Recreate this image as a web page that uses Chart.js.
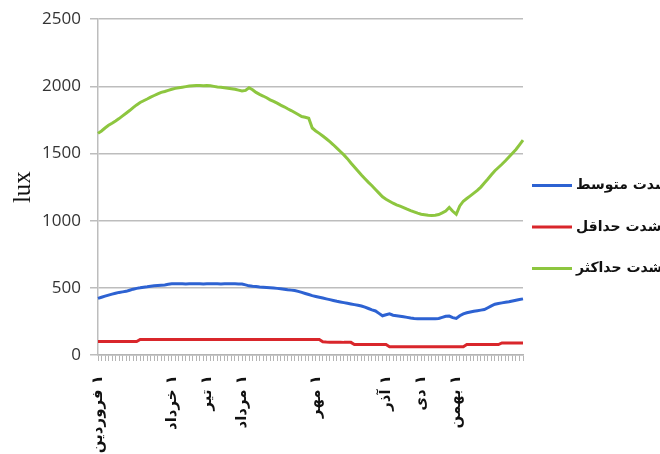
<!DOCTYPE html>
<html>
<head>
<meta charset="utf-8">
<script src="https://cdn.jsdelivr.net/npm/chart.js@4"></script>
<style>
  html, body { margin: 0; padding: 0; background: #fff; overflow: hidden; }
  #wrap { width: 660px; height: 454px; }
</style>
</head>
<body>
<div id="wrap"><canvas id="luxChart" width="660" height="454"></canvas></div>
<script>
// روزهای سال (هر ۳ روز یک نقطه)
const days = [];
for (let d = 0; d <= 363; d += 3) days.push(d);

const monthDays = [0, 63, 93, 123, 186, 246, 276, 306];
const monthLabels = ['۱ فروردین', '۱ خرداد', '۱ تیر', '۱ مرداد', '۱ مهر', '۱ آذر', '۱ دی', '۱ بهمن'];

const seriesNames = ['شدت متوسط', 'شدت حداقل', 'شدت حداکثر'];
const seriesColors = ['#2d62d2', '#d9262b', '#8dc63f'];

const avgLux = [
  422, 430, 438, 446, 453, 460, 466, 470, 474, 482, 490, 496, 500, 505, 508, 512,
  515, 518, 520, 522, 526, 530, 530, 531, 530, 529, 530, 531, 530, 530, 529, 530,
  531, 530, 530, 529, 530, 530, 531, 530, 529, 528, 522, 515, 512, 510, 506, 504,
  502, 500, 498, 496, 494, 490, 486, 483, 480, 474, 466, 458, 450, 442, 436, 430,
  424, 418, 412, 406, 400, 395, 390, 385, 380, 375, 370, 365, 356, 346, 336, 328,
  310, 292, 300, 306, 296, 292, 288, 284, 280, 275, 272, 270, 270, 270, 270, 270,
  270, 272, 280, 288, 290, 278, 272, 292, 306, 314, 320, 326, 330, 334, 338, 352,
  366, 378, 384, 388, 392, 396, 402, 408, 413, 418
];

const minLux = [
  100, 100, 100, 100, 100, 100, 100, 100, 100, 100, 100, 100, 115, 115, 115, 115,
  115, 115, 115, 115, 115, 115, 115, 115, 115, 115, 115, 115, 115, 115, 115, 115,
  115, 115, 115, 115, 115, 115, 115, 115, 115, 115, 115, 115, 115, 115, 115, 115,
  115, 115, 115, 115, 115, 115, 115, 115, 115, 115, 115, 115, 115, 115, 115, 115,
  98, 96, 95, 95, 95, 95, 94, 94, 94, 78, 78, 78, 78, 78, 78, 78,
  78, 78, 78, 62, 62, 62, 62, 62, 62, 62, 62, 62, 62, 62, 62, 62,
  62, 62, 62, 62, 62, 62, 62, 62, 62, 78, 78, 78, 78, 78, 78, 78,
  78, 78, 78, 90, 90, 90, 90, 90, 90, 90
];

const maxLux = [
  1650, 1668, 1690, 1710, 1725, 1742, 1760, 1780, 1800, 1820, 1842, 1862, 1880, 1893, 1906, 1920,
  1932, 1944, 1955, 1962, 1970, 1978, 1985, 1990, 1994, 1998, 2002, 2005, 2006, 2006, 2005, 2006,
  2004, 2000, 1996, 1994, 1990, 1986, 1982, 1978, 1972, 1965, 1970, 1990, 1975, 1955, 1940, 1928,
  1915, 1900, 1888, 1875, 1860, 1848, 1833, 1820, 1805, 1790, 1775, 1770, 1762, 1690, 1668, 1650,
  1630, 1610, 1588, 1565, 1540, 1515, 1490, 1462, 1430, 1400, 1370, 1340, 1312, 1285, 1260, 1232,
  1205, 1178, 1160, 1145, 1130, 1118, 1108, 1098, 1086, 1075, 1066, 1056, 1048, 1044, 1040, 1038,
  1040, 1046, 1058, 1072, 1098, 1070, 1048, 1110, 1145, 1165, 1185, 1205, 1225, 1250, 1280, 1310,
  1342, 1372, 1396, 1420, 1446, 1474, 1502, 1530, 1565, 1600
];

const yTicks = [0, 500, 1000, 1500, 2000, 2500];

// RLM در ابتدا تا عدد فارسی سمت راست نام ماه بماند
const labels = days.map(d => {
  const k = monthDays.indexOf(d);
  return k >= 0 ? '\u200F' + monthLabels[k] : '';
});

// راهنمای سمت راست (خط رنگی + نام سری)
const sideLegend = {
  id: 'sideLegend',
  afterDraw(chart) {
    const ctx = chart.ctx;
    const x0 = chart.chartArea.right + 9;
    const midY = chart.height / 2;
    ctx.save();
    ctx.font = 'bold 14px "DejaVu Sans"';
    ctx.textBaseline = 'middle';
    ctx.textAlign = 'left';
    chart.data.datasets.forEach((ds, i) => {
      const y = midY + (i - 1) * 41.5;
      ctx.strokeStyle = ds.borderColor;
      ctx.lineWidth = 3;
      ctx.beginPath();
      ctx.moveTo(x0, y);
      ctx.lineTo(x0 + 40, y);
      ctx.stroke();
      ctx.fillStyle = '#111';
      ctx.fillText(ds.label, x0 + 44, y);
    });
    ctx.restore();
  }
};

const mkSet = (i, data) => ({
  label: seriesNames[i],
  data: data,
  borderColor: seriesColors[i],
  borderWidth: 3,
  pointRadius: 0,
  tension: 0,
  fill: false
});

new Chart(document.getElementById('luxChart'), {
  type: 'line',
  data: {
    labels: labels,
    datasets: [mkSet(0, avgLux), mkSet(1, minLux), mkSet(2, maxLux)]
  },
  options: {
    responsive: false,
    animation: false,
    layout: { padding: { top: 12, right: 137, left: 0, bottom: 0 } },
    plugins: {
      legend: { display: false },
      tooltip: { enabled: false }
    },
    scales: {
      x: {
        offset: false,
        afterFit(scale) { scale.height = 99; },
        grid: { drawOnChartArea: false, drawTicks: true, tickLength: 6, color: '#b5b5b5', lineWidth: 1 },
        border: { display: true, color: '#b5b5b5', width: 1.5 },
        ticks: {
          autoSkip: false,
          minRotation: 90,
          maxRotation: 90,
          padding: 14,
          color: '#111',
          font: { family: '"DejaVu Sans"', size: 15, weight: 'bold' },
          callback: function (v, i) { return labels[i]; }
        }
      },
      y: {
        min: 0,
        max: 2500,
        afterFit(scale) { scale.width = 98; },
        afterBuildTicks(scale) { scale.ticks = yTicks.map(v => ({ value: v })); },
        grid: { color: '#bdbdbd', lineWidth: 1.5, tickLength: 8 },
        border: { display: true, color: '#bdbdbd', width: 1.5 },
        ticks: {
          padding: 9,
          color: '#333',
          font: { family: '"Open Sans"', size: 17 },
          callback: v => String(v)
        },
        title: {
          display: true,
          text: 'lux',
          color: '#111',
          font: { family: '"Liberation Serif"', size: 25 },
          padding: { top: 8, bottom: 0 }
        }
      }
    }
  },
  plugins: [sideLegend]
});
</script>
</body>
</html>
